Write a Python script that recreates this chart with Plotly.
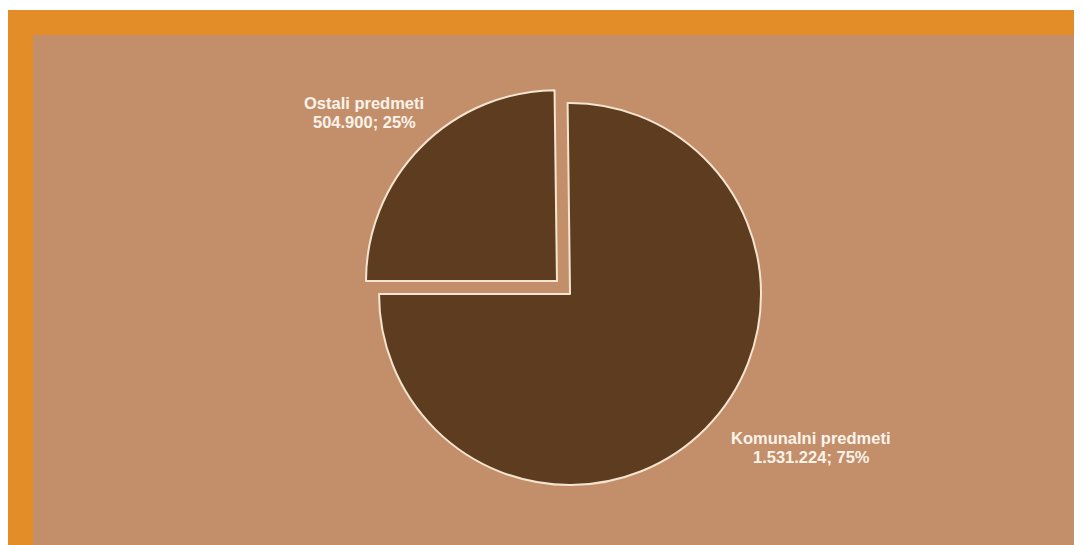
import plotly.graph_objects as go

labels = ["Ostali predmeti", "Komunalni predmeti"]
values = [504900, 1531224]
pulls = [0.096, 0]

total = sum(values)


def fmt_num(v):
    return f"{v:,}".replace(",", ".")


name_lines = labels
value_lines = [f"{fmt_num(v)}; {round(100 * v / total)}%" for v in values]

# figure sits at an 8px page offset, so size it to end at the window edge
W, H = 1074, 537
TAN = "#C38F6A"
ORANGE = "#E28D27"
FONT = dict(family="Liberation Sans, Arial, sans-serif", size=16.5, color="#FBF3EA", weight="bold")

# label anchors in pixels (x centre, y of first line, y of second line)
label_px = [(356, 95.5, 114.5), (803, 429.5, 448.5)]

fig = go.Figure(
    go.Pie(
        labels=labels,
        values=values,
        pull=pulls,
        sort=False,
        direction="clockwise",
        rotation=-90,
        textinfo="none",
        hoverinfo="label+value+percent",
        marker=dict(colors=["#5E3C1F", "#5E3C1F"], line=dict(color="#F4E4D0", width=2)),
        domain=dict(x=[0.2233, 0.8233], y=[0.0776, 0.8572]),
        showlegend=False,
    )
)

shapes = [
    dict(type="rect", xref="paper", yref="paper", x0=0, x1=1, y0=1 - 2 / H, y1=1,
         fillcolor="white", line_width=0),
    dict(type="rect", xref="paper", yref="paper", x0=0, x1=1, y0=1 - 27 / H, y1=1 - 2 / H,
         fillcolor=ORANGE, line_width=0),
    dict(type="rect", xref="paper", yref="paper", x0=0, x1=25 / W, y0=0, y1=1 - 2 / H,
         fillcolor=ORANGE, line_width=0),
]

annotations = []
for name, val, (px, py1, py2) in zip(name_lines, value_lines, label_px):
    for txt, py in ((name, py1), (val, py2)):
        annotations.append(
            dict(x=px / W, y=1 - py / H, xref="paper", yref="paper", text=txt,
                 showarrow=False, xanchor="center", yanchor="middle", font=FONT)
        )

fig.update_layout(
    width=W,
    height=H,
    margin=dict(t=0, l=0, r=0, b=0),
    paper_bgcolor=TAN,
    plot_bgcolor=TAN,
    shapes=shapes,
    annotations=annotations,
)

fig.write_html("out.html")
